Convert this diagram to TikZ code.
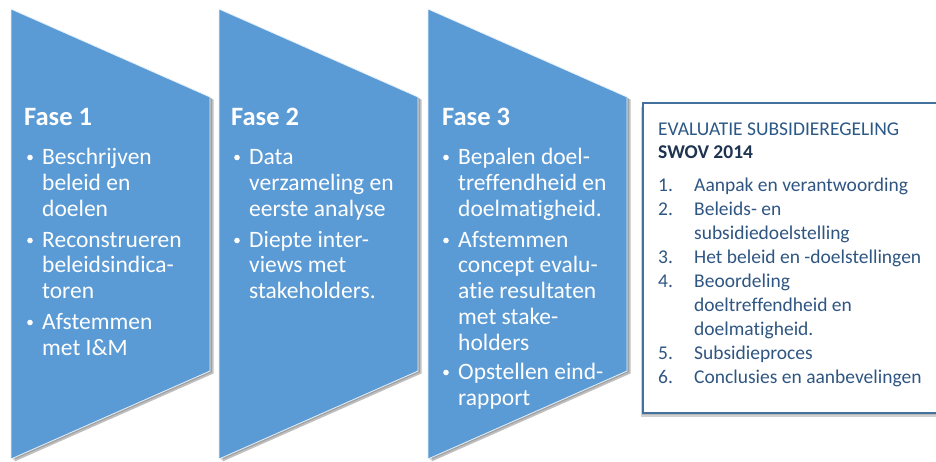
\documentclass[tikz,border=0pt]{standalone}
\usepackage{fontspec}
\setmainfont{Carlito}[Ligatures={NoCommon,NoRare}]
\definecolor{phaseblue}{RGB}{91,155,213}
\definecolor{boxline}{RGB}{65,113,156}
\definecolor{listcol}{RGB}{47,86,130}
\definecolor{titlecol}{RGB}{43,88,134}
\definecolor{swovcol}{RGB}{30,52,80}
\begin{document}
\begin{tikzpicture}[x=1pt,y=-1pt,
  phasebody/.style={fill=phaseblue,draw=white!85!phaseblue,line width=0.8pt},
  phaseshadow/.style={fill=black,opacity=0.25},
  head/.style={anchor=base west,inner sep=0,text=white,font=\fontsize{26.5}{28}\selectfont\bfseries},
  itemline/.style={anchor=base west,inner sep=0,text=white,font=\fontsize{23.5}{25.5}\selectfont},
  bul/.style={fill=white},
  boxtext/.style={anchor=base west,inner sep=0,text=listcol,font=\fontsize{19.5}{24}\selectfont},
]
\useasboundingbox (0,0) rectangle (936,461);
\clip (0,0) rectangle (936,461);
\fill[white] (0,0) rectangle (936,461);

% phase shapes with shadows
\foreach \L/\R in {11/210,219/418,428/627}{
  \fill[phaseshadow] (\L+3.5,9+2.5) -- (\R+3.5,97+2.5) -- (\R+3.5,371+2.5) -- (\L+3.5,459+2.5) -- cycle;
  \fill[phaseshadow,opacity=0.15] (\L+1.8,9+1.2) -- (\R+1.8,97+1.2) -- (\R+1.8,371+1.2) -- (\L+1.8,459+1.2) -- cycle;
  \path[phasebody] (\L,9) -- (\R,97) -- (\R,371) -- (\L,459) -- cycle;
}

% headings
\node[head] (h1) at (24,125) {Fase 1};
\node[head] (h2) at (231,125) {Fase 2};
\node[head] (h3) at (442,125) {Fase 3};

% phase 1
\foreach \y/\t [count=\i] in {164/Beschrijven,190/beleid en,216/doelen,247/Reconstrueren,272/beleidsindica-,298/toren,329/Afstemmen,355/met I\&M}
  \node[itemline] (pa\i) at (42,\y) {\t};
\foreach \y in {164,247,329} \fill[bul] (30,\y-6.5) circle (2.8);

% phase 2
\foreach \y/\t [count=\i] in {164/Data,190/verzameling en,216/eerste analyse,247/Diepte inter-,272/views met,298/stakeholders.}
  \node[itemline] (pb\i) at (249,\y) {\t};
\foreach \y in {164,247} \fill[bul] (237,\y-6.5) circle (2.8);

% phase 3
\foreach \y/\t [count=\i] in {164/Bepalen doel-,190/treffendheid en,216/doelmatigheid.,247/Afstemmen,272/concept evalu-,298/atie resultaten,324/met stake-,350/holders,379/Opstellen eind-,405/rapport}
  \node[itemline] (pc\i) at (458,\y) {\t};
\foreach \y in {164,247,379} \fill[bul] (446,\y-6.5) circle (2.8);

% summary box
\fill[black,opacity=0.18] (641,107) rectangle (945,417);
\fill[black,opacity=0.12] (642,105) rectangle (945,415);
\draw[boxline,line width=2pt,fill=white] (643,103) rectangle (950,413);

\node[boxtext,text=titlecol] (title) at (658,135) {EVALUATIE SUBSIDIEREGELING};
\node[boxtext,text=swovcol,font=\fontsize{19.5}{24}\selectfont\bfseries] (swov) at (658,158.5) {SWOV 2014};

\foreach \y/\n/\t [count=\i] in {191.5/1./Aanpak en verantwoording,215.5/2./Beleids- en,239.5//subsidiedoelstelling,263.5/3./Het beleid en -doelstellingen,287.5/4./Beoordeling,311.5//doeltreffendheid en,335.5//doelmatigheid.,359.5/5./Subsidieproces,383.5/6./Conclusies en aanbevelingen}{
  \node[boxtext] (num\i) at (658,\y) {\n};
  \node[boxtext] (lst\i) at (694,\y) {\t};
}
\end{tikzpicture}
\end{document}
